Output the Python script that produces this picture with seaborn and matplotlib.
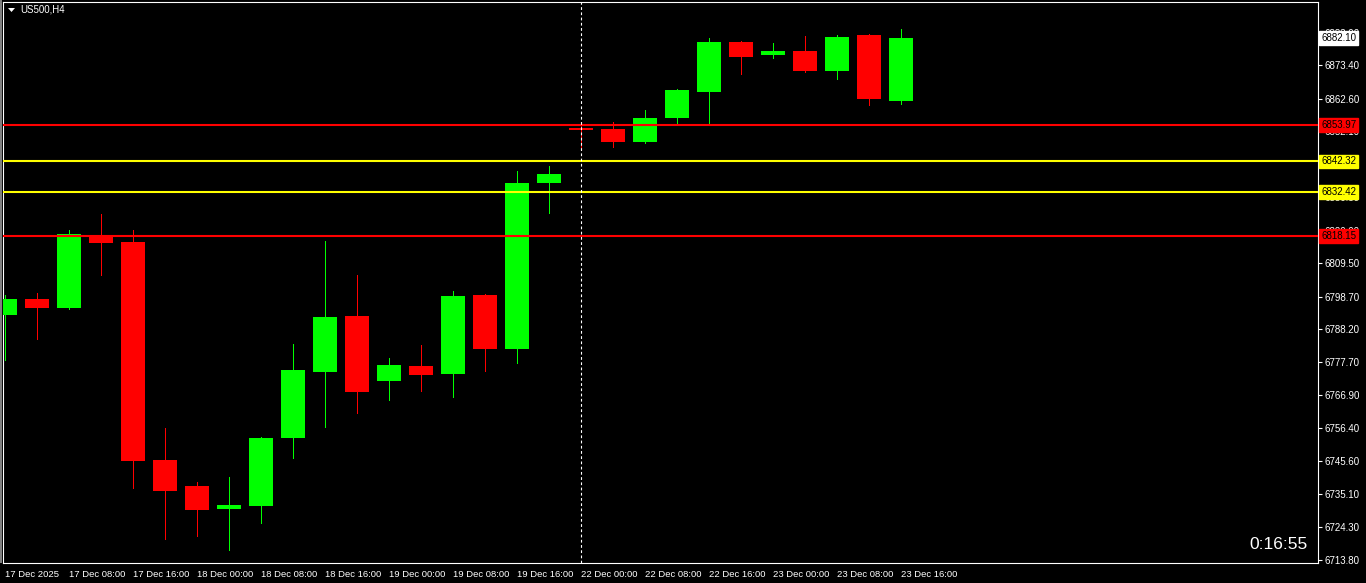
import matplotlib
matplotlib.use("Agg")
import matplotlib.pyplot as plt
import matplotlib.transforms as mtransforms
from matplotlib.patches import Polygon, Rectangle
import seaborn as sns
import pandas as pd

# ---------------- data ----------------
times = ["17 Dec 00:00", "17 Dec 04:00", "17 Dec 08:00", "17 Dec 12:00", "17 Dec 16:00", "17 Dec 20:00",
         "18 Dec 00:00", "18 Dec 04:00", "18 Dec 08:00", "18 Dec 12:00", "18 Dec 16:00", "18 Dec 20:00",
         "19 Dec 00:00", "19 Dec 04:00", "19 Dec 08:00", "19 Dec 12:00", "19 Dec 16:00", "19 Dec 20:00",
         "22 Dec 00:00", "22 Dec 04:00", "22 Dec 08:00", "22 Dec 12:00", "22 Dec 16:00", "22 Dec 20:00",
         "23 Dec 00:00", "23 Dec 04:00", "23 Dec 08:00", "23 Dec 12:00", "23 Dec 16:00"]
opens = [6792.81, 6797.97, 6795.07, 6818.61, 6816.35, 6746.05,
         6737.66, 6730.25, 6731.21, 6753.14, 6774.43, 6792.49,
         6771.52, 6776.36, 6773.78, 6799.26, 6781.84, 6835.38,
         6853.11, 6852.79, 6848.60, 6856.34, 6864.72, 6880.84,
         6876.65, 6877.94, 6871.49, 6883.10, 6861.82]
highs = [6799.26, 6799.90, 6820.22, 6825.38, 6820.22, 6756.37,
         6738.95, 6740.57, 6753.47, 6783.46, 6816.67, 6805.71,
         6778.94, 6783.13, 6800.55, 6799.58, 6839.24, 6840.86,
         6855.05, 6855.05, 6858.92, 6865.60, 6882.13, 6881.17,
         6880.52, 6882.78, 6883.10, 6883.42, 6885.03]
lows = [6778.30, 6785.07, 6794.80, 6805.71, 6737.02, 6720.57,
        6721.54, 6717.02, 6725.73, 6746.69, 6756.69, 6761.20,
        6765.40, 6768.30, 6766.36, 6774.75, 6777.33, 6825.70,
        6846.02, 6846.98, 6848.30, 6854.73, 6854.40, 6870.53,
        6875.68, 6871.17, 6868.91, 6860.53, 6860.85]
closes = [6797.97, 6795.07, 6818.93, 6816.03, 6745.73, 6736.05,
          6729.92, 6731.54, 6753.14, 6775.07, 6792.16, 6767.98,
          6776.68, 6773.46, 6798.93, 6781.84, 6835.38, 6838.28,
          6852.60, 6848.60, 6856.34, 6865.37, 6880.84, 6876.00,
          6877.94, 6871.49, 6882.46, 6862.46, 6882.10]

level_values = [6853.97, 6842.32, 6832.42, 6818.15]
level_colors = ["#FF0000", "#FFFF00", "#FFFF00", "#FF0000"]
last_price = 6882.10

price_ticks = [6883.90, 6873.40, 6862.60, 6852.10, 6841.30, 6830.80, 6820.00, 6809.50,
               6798.70, 6788.20, 6777.70, 6766.90, 6756.40, 6745.60, 6735.10, 6724.30, 6713.80]
time_tick_idx = [0, 2, 4, 6, 8, 10, 12, 14, 16, 18, 20, 22, 24, 26, 28]
time_tick_labels = ["17 Dec 2025", "17 Dec 08:00", "17 Dec 16:00", "18 Dec 00:00", "18 Dec 08:00",
                    "18 Dec 16:00", "19 Dec 00:00", "19 Dec 08:00", "19 Dec 16:00", "22 Dec 00:00",
                    "22 Dec 08:00", "22 Dec 16:00", "23 Dec 00:00", "23 Dec 08:00", "23 Dec 16:00"]
symbol_label = "US500,H4"
timer_label = "0:16:55"

df = pd.DataFrame({"time": times, "open": opens, "high": highs, "low": lows, "close": closes})
df["pos"] = range(len(df))
df["up"] = df["close"] >= df["open"]

# ---------------- style ----------------
sns.set_theme(style="dark", rc={
    "axes.facecolor": "black", "figure.facecolor": "black",
    "axes.edgecolor": "white", "axes.grid": False,
    "xtick.color": "white", "ytick.color": "white",
    "text.color": "white",
})
plt.rcParams["font.family"] = ["Liberation Sans", "DejaVu Sans"]

W, H = 1366, 583
fig = plt.figure(figsize=(W / 100, H / 100), dpi=100)
ax_l, ax_r, ax_t, ax_b = 3, 1318, 2, 563
ax = fig.add_axes([ax_l / W, 1 - ax_b / H, (ax_r - ax_l) / W, (ax_b - ax_t) / H])

GREEN, RED = "#00FF00", "#FF0000"
colors = [GREEN if u else RED for u in df["up"]]

# wicks
ax.vlines(df["pos"], df["low"], df["high"], colors=colors, linewidth=0.5,
          antialiased=False, zorder=2)
# bodies
bottoms = df[["open", "close"]].min(axis=1)
heights = (df["close"] - df["open"]).abs().clip(lower=0.45)
ax.bar(df["pos"], heights, bottom=bottoms, width=0.78, color=colors, linewidth=0,
       antialiased=False, zorder=3)

# horizontal levels
for v, c in zip(level_values, level_colors):
    ax.axhline(v, color=c, linewidth=1.5, zorder=4)

# vertical dashed separator
ax.axvline(18, color="white", linewidth=0.8, linestyle=(0, (2.5, 2.2)), zorder=5)

# limits (32 px per candle, first candle at x=5 px)
xmin = -2 / 32
ax.set_xlim(xmin, xmin + (ax_r - ax_l) / 32)
ax.set_ylim(6712.83, 6893.74)

# y axis on right
ax.yaxis.tick_right()
ax.set_yticks(price_ticks)
ax.set_yticklabels([f"{t:.2f}" for t in price_ticks])
ax.tick_params(axis="y", direction="out", length=3, width=0.8, pad=2, labelsize=7, colors="white")
ax.set_xticks(time_tick_idx)
ax.set_xticklabels(time_tick_labels, ha="left")
ax.tick_params(axis="x", direction="out", length=3, width=0.8, pad=2, labelsize=6.8, colors="white")
for lab in ax.get_xticklabels():
    lab.set_horizontalalignment("left")
for s in ax.spines.values():
    s.set_color("white")
    s.set_linewidth(0.8)

# price boxes on the right axis
trans = mtransforms.blended_transform_factory(ax.transAxes, ax.transData)
box_x = 1 + 3 / (ax_r - ax_l)
ax.text(box_x, last_price, f"{last_price:.2f}", transform=trans, ha="left", va="center",
        fontsize=7, color="black", clip_on=False, zorder=10,
        bbox=dict(boxstyle="square,pad=0.2", facecolor="white", edgecolor="white"))
for v, c in zip(level_values, level_colors):
    ax.text(box_x, v, f"{v:.2f}", transform=trans, ha="left", va="center",
            fontsize=7, color="black", clip_on=False, zorder=10,
            bbox=dict(boxstyle="square,pad=0.2", facecolor=c, edgecolor=c))

# symbol label and triangle
fig.text(20 / W, 1 - 10 / H, symbol_label, ha="left", va="center", fontsize=7, color="white")
fig.patches.append(Polygon([[8 / W, 1 - 8 / H], [15 / W, 1 - 8 / H], [11.5 / W, 1 - 12 / H]],
                           closed=True, transform=fig.transFigure, facecolor="white",
                           edgecolor="none"))
# window edge strip on the left
fig.patches.append(Rectangle((0, 1 - ax_b / H), 2 / W, (ax_b) / H, transform=fig.transFigure,
                             facecolor="#808080", edgecolor="none"))

# timer
fig.text(1308 / W, 1 - 549 / H, timer_label, ha="right", va="baseline", fontsize=12.5, color="white")

fig.savefig("out.png", dpi=100, facecolor="black")
